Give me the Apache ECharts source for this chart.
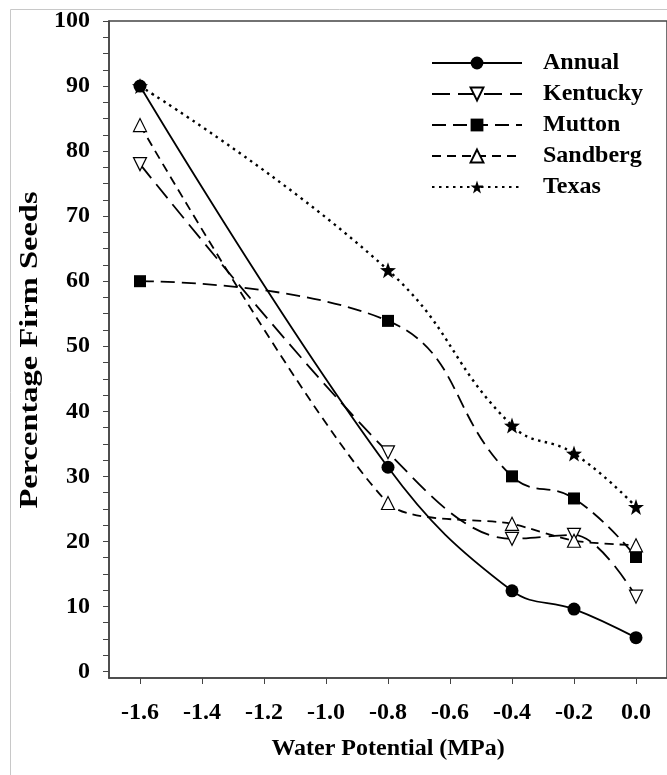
<!DOCTYPE html>
<html>
<head>
<meta charset="utf-8">
<script src="https://cdn.jsdelivr.net/npm/echarts@6/dist/echarts.min.js"></script>
<style>
  html, body { margin: 0; padding: 0; background: #fff; }
  #chart { width: 667px; height: 775px; }
</style>
</head>
<body>
<div id="chart"></div>
<script>
// water potential (MPa)
var potentials = [-1.6, -0.8, -0.4, -0.2, 0.0];
// percentage firm seeds per species
var annual   = [90, 31.4, 12.4, 9.6, 5.2];
var kentucky = [78, 33.7, 20.4, 21.0, 11.5];
var mutton   = [60, 53.9, 30.0, 26.6, 17.6];
var sandberg = [84, 25.9, 22.7, 20.1, 19.4];
var texas    = [90, 61.7, 37.8, 33.5, 25.3];

var xTicks = [-1.6, -1.4, -1.2, -1.0, -0.8, -0.6, -0.4, -0.2, 0.0];
var yLabels = [0, 10, 20, 30, 40, 50, 60, 70, 80, 90, 100];
var yTicks = [];
for (var t = 0; t <= 100; t += 2.5) yTicks.push(t);

var font = 'Liberation Serif, Times New Roman, serif';
var star = 'path://M0,-10 L2.35,-3.24 L9.51,-3.09 L3.8,1.24 L5.88,8.09 L0,4 L-5.88,8.09 L-3.8,1.24 L-9.51,-3.09 L-2.35,-3.24 Z';

function pairs(vals) {
    return potentials.map(function (p, i) { return [p, vals[i]]; });
}

var chart = echarts.init(document.getElementById('chart'));

function line(name, vals, symbol, size, filled, dash, smooth, width, rotate) {
    return {
        name: name,
        type: 'line',
        data: pairs(vals),
        smooth: smooth,
        symbol: symbol,
        symbolSize: size,
        symbolRotate: rotate || 0,
        showAllSymbol: true,
        lineStyle: { color: '#000', width: width, type: dash },
        itemStyle: {
            color: filled ? '#000' : '#fff',
            borderColor: '#000',
            borderWidth: filled ? 0 : 1.2
        },
        z: 3
    };
}

var option = {
    backgroundColor: '#fff',
    animation: false,
    grid: {
        left: 109,
        right: -1,
        top: 21,
        bottom: 97,
        show: true,
        borderColor: '#444',
        borderWidth: 1.5
    },
    legend: {
        orient: 'vertical',
        left: 426,
        top: 46,
        itemWidth: 90,
        itemHeight: 16,
        itemGap: 7,
        textStyle: {
            fontFamily: font,
            fontWeight: 'bold',
            fontSize: 24,
            color: '#000',
            padding: [0, 0, 0, 16]
        }
    },
    xAxis: {
        type: 'value',
        min: -1.7,
        max: 0.1,
        name: 'Water Potential (MPa)',
        nameLocation: 'middle',
        nameGap: 59,
        nameTextStyle: { fontFamily: font, fontWeight: 'bold', fontSize: 24, color: '#000' },
        splitLine: { show: false },
        axisLine: { onZero: false, lineStyle: { color: '#444', width: 1.5 } },
        axisTick: { length: 6, customValues: xTicks, lineStyle: { color: '#444' } },
        axisLabel: {
            customValues: xTicks,
            margin: 23,
            fontFamily: font,
            fontWeight: 'bold',
            fontSize: 24,
            color: '#000',
            formatter: function (v) { return v.toFixed(1); }
        }
    },
    yAxis: {
        type: 'value',
        min: -1,
        max: 100,
        splitLine: { show: false },
        axisLine: { onZero: false, lineStyle: { color: '#444', width: 1.5 } },
        axisTick: { length: 6, customValues: yTicks, lineStyle: { color: '#444' } },
        axisLabel: {
            customValues: yLabels,
            margin: 19,
            fontFamily: font,
            fontWeight: 'bold',
            fontSize: 24,
            color: '#000'
        }
    },
    graphic: [{
        type: 'rect',
        shape: { x: 10.5, y: 9.5, width: 700, height: 800 },
        style: { fill: 'none', stroke: '#c8c8c8', lineWidth: 1 },
        silent: true
    }, {
        // y axis title, stretched along its length like the reference
        type: 'text',
        x: 31,
        y: 350,
        rotation: Math.PI / 2,
        scaleX: 1.3,
        style: {
            text: 'Percentage Firm Seeds',
            font: 'bold 25px ' + font,
            fill: '#000',
            align: 'center',
            verticalAlign: 'middle'
        },
        silent: true
    }],
    series: [
        line('Annual', annual, 'circle', 13, true, 'solid', 0.4, 1.8),
        line('Kentucky', kentucky, 'triangle', 13, false, [18, 8], 0.35, 1.8, 180),
        line('Mutton', mutton, 'rect', 12, true, [14, 7], 0.45, 1.8),
        line('Sandberg', sandberg, 'triangle', 13, false, [9, 6], 0.25, 1.8),
        line('Texas', texas, star, 16, true, [2.5, 4.5], 0.45, 2.4)
    ]
};
chart.setOption(option);
window.addEventListener('resize', function () {
    chart.resize();
});
</script>
</body>
</html>
